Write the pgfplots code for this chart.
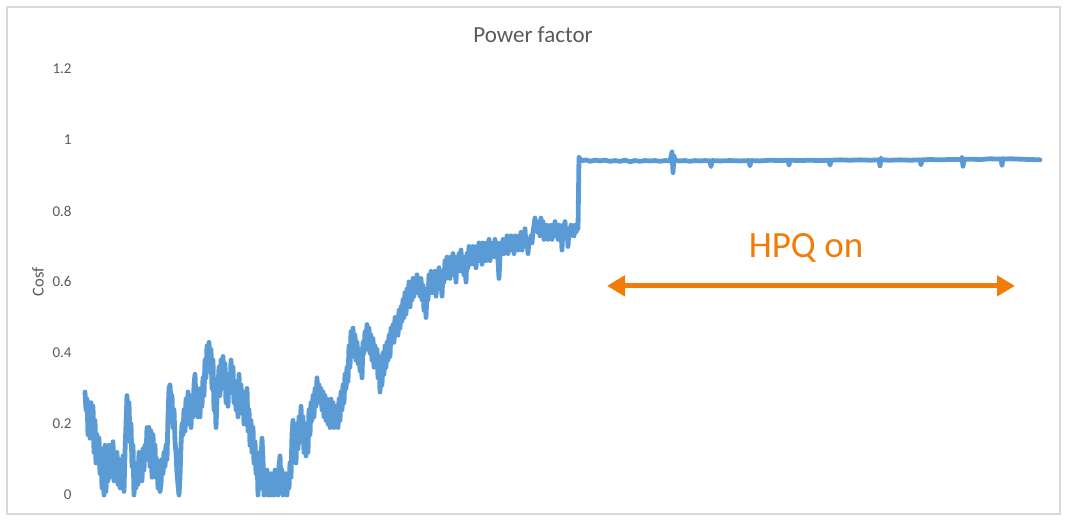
\documentclass[border=0pt]{standalone}
\usepackage{fontspec}
\setmainfont{Carlito}
\usepackage{pgfplots}
\pgfplotsset{compat=1.18}
\usetikzlibrary{arrows.meta}
\definecolor{pfblue}{HTML}{5B9BD5}
\definecolor{hpqorange}{HTML}{F07D0A}
\definecolor{txtgray}{HTML}{595959}
\definecolor{framegray}{HTML}{D9D9D9}
\begin{document}
\begin{tikzpicture}
\useasboundingbox (0,0) rectangle (533pt,261pt);
\draw[framegray, line width=0.7pt] (3.5pt,4pt) rectangle (530pt,257.5pt);
\begin{axis}[
  at={(40pt,13.5pt)}, anchor=south west,
  scale only axis, width=482.5pt, height=213pt,
  xmin=80, xmax=1045, ymin=0, ymax=1.2,
  clip=false,
  axis line style={draw=none},
  major tick length=0pt,
  xtick=\empty,
  ytick={0,0.2,0.4,0.6,0.8,1,1.2},
  yticklabels={0,0.2,0.4,0.6,0.8,1,1.2},
  yticklabel style={font=\fontsize{7.5}{9}\selectfont, text=txtgray, anchor=east, inner sep=0pt, xshift=-4pt},
  ylabel={Cosf},
  every axis y label/.style={at={(axis description cs:-0.0435,0.5)}, rotate=90, anchor=center, font=\fontsize{8.3}{10}\selectfont, text=txtgray},
  title={Power factor},
  every axis title shift=0pt,
  title style={at={(axis description cs:0.4694,1)}, anchor=center, yshift=17pt, font=\fontsize{11.5}{13}\selectfont, text=txtgray},
]
% measured power factor
\addplot[pfblue, line width=2.4pt, line join=round, line cap=round] coordinates {
(85,0.29)(86,0.24)(87,0.27)(88,0.17)(89,0.25)(90,0.16)(91,0.26)(92,0.18)(93,0.25)(94,0.12)
(95,0.21)(96,0.09)(97,0.17)(98,0.10)(99,0.16)(100,0.06)(101,0.13)(102,0.02)(103,0.10)(104,0.00)
(105,0.14)(106,0.01)(107,0.12)(108,0.04)(109,0.14)(110,0.05)(111,0.12)(112,0.07)(113,0.15)(114,0.04)
(115,0.11)(116,0.06)(117,0.12)(118,0.03)(119,0.10)(120,0.02)(121,0.09)(122,0.03)(123,0.11)(124,0.01)
(125,0.12)(126,0.20)(127,0.28)(128,0.22)(129,0.26)(130,0.15)(131,0.20)(132,0.08)(133,0.14)(134,0.00)
(135,0.07)(136,0.02)(137,0.09)(138,0.03)(139,0.12)(140,0.05)(141,0.11)(142,0.04)(143,0.13)(144,0.07)
(145,0.14)(146,0.10)(147,0.19)(148,0.12)(149,0.19)(150,0.08)(151,0.18)(152,0.05)(153,0.17)(154,0.09)
(155,0.14)(156,0.05)(157,0.10)(158,0.02)(159,0.07)(160,0.01)(161,0.03)(162,0.10)(163,0.06)(164,0.12)
(165,0.08)(166,0.14)(167,0.10)(168,0.22)(169,0.30)(170,0.31)(171,0.26)(172,0.28)(173,0.19)(174,0.24)
(175,0.15)(176,0.12)(177,0.06)(178,0.03)(179,0.00)(180,0.05)(181,0.14)(182,0.20)(183,0.17)(184,0.24)
(185,0.18)(186,0.27)(187,0.20)(188,0.29)(189,0.21)(190,0.28)(191,0.19)(192,0.27)(193,0.22)(194,0.31)
(195,0.34)(196,0.26)(197,0.30)(198,0.22)(199,0.28)(200,0.22)(201,0.30)(202,0.25)(203,0.33)(204,0.28)
(205,0.38)(206,0.33)(207,0.42)(208,0.37)(209,0.43)(210,0.35)(211,0.41)(212,0.30)(213,0.38)(214,0.24)
(215,0.30)(216,0.19)(217,0.27)(218,0.30)(219,0.36)(220,0.28)(221,0.38)(222,0.30)(223,0.39)(224,0.31)
(225,0.37)(226,0.26)(227,0.31)(228,0.25)(229,0.34)(230,0.29)(231,0.38)(232,0.32)(233,0.36)(234,0.26)
(235,0.32)(236,0.24)(237,0.30)(238,0.22)(239,0.34)(240,0.26)(241,0.31)(242,0.23)(243,0.29)(244,0.20)
(245,0.27)(246,0.21)(247,0.30)(248,0.18)(249,0.24)(250,0.14)(251,0.21)(252,0.12)(253,0.19)(254,0.09)
(255,0.15)(256,0.06)(257,0.12)(258,0.00)(259,0.10)(260,0.02)(261,0.09)(262,0.16)(263,0.10)(264,0.00)
(265,0.06)(266,0.01)(267,0.07)(268,0.00)(269,0.05)(270,0.00)(271,0.06)(272,0.00)(273,0.04)(274,0.00)
(275,0.07)(276,0.01)(277,0.05)(278,0.00)(279,0.08)(280,0.11)(281,0.03)(282,0.07)(283,0.00)(284,0.05)
(285,0.01)(286,0.06)(287,0.00)(288,0.05)(289,0.02)(290,0.09)(291,0.05)(292,0.17)(293,0.21)(294,0.12)
(295,0.19)(296,0.09)(297,0.20)(298,0.13)(299,0.22)(300,0.15)(301,0.25)(302,0.18)(303,0.22)(304,0.12)
(305,0.20)(306,0.11)(307,0.19)(308,0.12)(309,0.24)(310,0.17)(311,0.26)(312,0.21)(313,0.28)(314,0.22)
(315,0.30)(316,0.25)(317,0.33)(318,0.27)(319,0.31)(320,0.26)(321,0.30)(322,0.24)(323,0.29)(324,0.22)
(325,0.28)(326,0.21)(327,0.27)(328,0.20)(329,0.26)(330,0.19)(331,0.27)(332,0.22)(333,0.26)(334,0.19)
(335,0.25)(336,0.20)(337,0.24)(338,0.19)(339,0.27)(340,0.21)(341,0.29)(342,0.24)(343,0.31)(344,0.26)
(345,0.34)(346,0.30)(347,0.36)(348,0.32)(349,0.42)(350,0.36)(351,0.46)(352,0.39)(353,0.47)(354,0.40)
(355,0.45)(356,0.38)(357,0.43)(358,0.37)(359,0.41)(360,0.35)(361,0.39)(362,0.33)(363,0.43)(364,0.40)
(365,0.46)(366,0.41)(367,0.48)(368,0.42)(369,0.47)(370,0.40)(371,0.45)(372,0.38)(373,0.44)(374,0.36)
(375,0.42)(376,0.37)(377,0.41)(378,0.33)(379,0.39)(380,0.29)(381,0.37)(382,0.31)(383,0.40)(384,0.34)
(385,0.42)(386,0.36)(387,0.43)(388,0.38)(389,0.45)(390,0.39)(391,0.47)(392,0.43)(393,0.48)(394,0.43)
(395,0.50)(396,0.46)(397,0.50)(398,0.45)(399,0.52)(400,0.47)(401,0.53)(402,0.49)(403,0.55)(404,0.50)
(405,0.57)(406,0.51)(407,0.58)(408,0.54)(409,0.60)(410,0.53)(411,0.57)(412,0.55)(413,0.61)(414,0.56)
(415,0.60)(416,0.57)(417,0.62)(418,0.57)(419,0.60)(420,0.56)(421,0.61)(422,0.55)(423,0.59)(424,0.52)
(425,0.58)(426,0.50)(427,0.57)(428,0.55)(429,0.62)(430,0.58)(431,0.63)(432,0.57)(433,0.62)(434,0.58)
(435,0.63)(436,0.56)(437,0.61)(438,0.59)(439,0.64)(440,0.58)(441,0.62)(442,0.56)(443,0.63)(444,0.60)
(445,0.66)(446,0.61)(447,0.67)(448,0.62)(449,0.66)(450,0.61)(451,0.67)(452,0.63)(453,0.68)(454,0.62)
(455,0.66)(456,0.60)(457,0.67)(458,0.63)(459,0.68)(460,0.64)(461,0.69)(462,0.63)(463,0.67)(464,0.62)
(465,0.66)(466,0.60)(467,0.68)(468,0.64)(469,0.70)(470,0.65)(471,0.69)(472,0.66)(473,0.70)(474,0.65)
(475,0.69)(476,0.64)(477,0.70)(478,0.66)(479,0.71)(480,0.66)(481,0.69)(482,0.65)(483,0.71)(484,0.67)
(485,0.70)(486,0.66)(487,0.71)(488,0.67)(489,0.72)(490,0.66)(491,0.70)(492,0.67)(493,0.71)(494,0.68)
(495,0.72)(496,0.67)(497,0.71)(498,0.66)(499,0.61)(500,0.67)(501,0.71)(502,0.68)(503,0.72)(504,0.68)
(505,0.71)(506,0.69)(507,0.73)(508,0.68)(509,0.72)(510,0.69)(511,0.73)(512,0.69)(513,0.72)(514,0.68)
(515,0.73)(516,0.70)(517,0.72)(518,0.69)(519,0.73)(520,0.70)(521,0.74)(522,0.69)(523,0.73)(524,0.70)
(525,0.75)(526,0.70)(527,0.72)(528,0.68)(529,0.72)(530,0.71)(531,0.73)(532,0.71)(533,0.74)(534,0.76)
(535,0.78)(536,0.75)(537,0.77)(538,0.74)(539,0.76)(540,0.73)(541,0.78)(542,0.74)(543,0.77)(544,0.72)
(545,0.75)(546,0.73)(547,0.76)(548,0.72)(549,0.75)(550,0.73)(551,0.76)(552,0.72)(553,0.75)(554,0.74)
(555,0.77)(556,0.73)(557,0.75)(558,0.72)(559,0.76)(560,0.73)(561,0.75)(562,0.69)(563,0.76)(564,0.74)
(565,0.77)(566,0.73)(567,0.75)(568,0.70)(569,0.75)(570,0.73)(571,0.76)(572,0.74)(573,0.75)(574,0.73)
(575,0.76)(576,0.74)(577,0.75)(578,0.75)(579,0.952)(580,0.945)(583,0.942)(586,0.944)(590,0.940)
(595,0.943)(600,0.941)(605,0.943)(610,0.940)(615,0.942)(620,0.940)(625,0.943)(630,0.939)(635,0.942)
(640,0.940)(645,0.942)(650,0.941)(655,0.942)(660,0.940)(665,0.942)(670,0.941)(672,0.966)(673,0.908)
(674,0.955)(675,0.942)(680,0.941)(685,0.942)(690,0.940)(695,0.942)(700,0.941)(705,0.942)(710,0.941)
(711,0.925)(712,0.942)(720,0.941)(730,0.942)(740,0.941)(749,0.942)(750,0.927)(751,0.942)(760,0.941)
(770,0.943)(780,0.942)(788,0.943)(789,0.929)(790,0.943)(800,0.942)(810,0.943)(820,0.942)(829,0.943)
(830,0.929)(831,0.943)(840,0.944)(850,0.943)(860,0.944)(870,0.943)(879,0.944)(880,0.927)(881,0.949)
(882,0.944)(890,0.943)(900,0.944)(910,0.943)(920,0.944)(921,0.930)(922,0.944)(930,0.945)(940,0.944)
(950,0.945)(961,0.945)(962,0.951)(963,0.926)(964,0.945)(970,0.946)(980,0.945)(990,0.947)(1001,0.946)
(1002,0.929)(1003,0.948)(1004,0.946)(1010,0.947)(1020,0.946)(1030,0.945)(1040,0.944)
};
% period with the HPQ compensator switched on
\draw[hpqorange, line width=2.5pt, {Triangle[length=9pt,width=10pt]}-{Triangle[length=9pt,width=10pt]}]
  (axis cs:607,0.589) -- (axis cs:1015,0.589);
\node[hpqorange, anchor=base, font=\fontsize{18.5}{21}\selectfont] at (axis cs:806,0.670) {HPQ on};
\end{axis}
\end{tikzpicture}
\end{document}
